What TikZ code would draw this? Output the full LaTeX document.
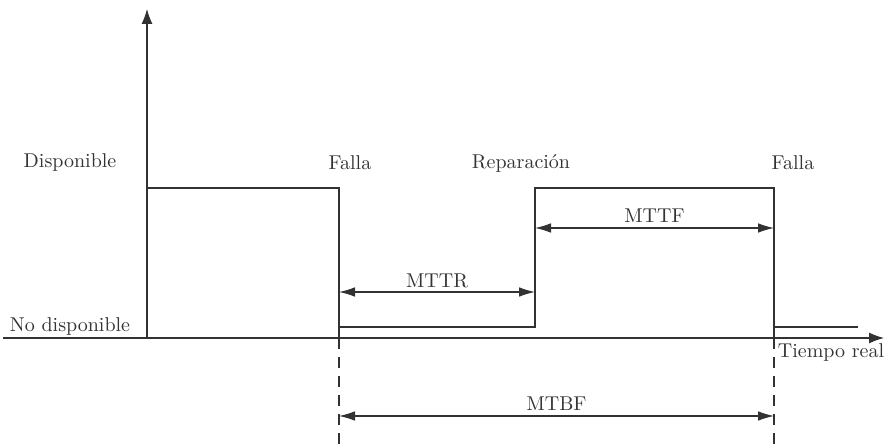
\documentclass[tikz,border=0pt]{standalone}
\usepackage{tikz}
\usetikzlibrary{arrows.meta}
\definecolor{lineGrey}{RGB}{50, 50, 50}

\begin{document}
\begin{tikzpicture} [
        x=0.5pt, y=-0.5pt,
        signal/.style={draw=lineGrey, line width=0.55pt},
        axis/.style={draw=lineGrey, line width=0.55pt, -{Latex[length=7.5pt, width=5.5pt]}},
        span/.style={draw=lineGrey, line width=0.55pt, {Latex[length=8pt, width=4.8pt]}-{Latex[length=8pt, width=4.8pt]}},
        guide/.style={draw=lineGrey, line width=0.55pt, dash pattern=on 5.5pt off 4pt},
        lbl/.style={inner sep=0pt, text=black!80}
    ]
        \useasboundingbox (0,0) rectangle (884,448);

        % axes
        \coordinate (o) at (147,338);
        \coordinate (xstart) at (3,338);
        \coordinate (xend) at (884,338);
        \coordinate (ytop) at (147,9);
        \draw[axis] (xstart) -- (xend);
        \draw[axis] (o) -- (ytop);

        % failure / repair instants
        \coordinate (f1) at (339,338);
        \coordinate (r1) at (535,338);
        \coordinate (f2) at (774,338);
        \coordinate (tend) at (858,338);

        % signal
        \draw[signal] (o|-0,188) -- (f1|-0,188) -- (f1)
            (f1|-0,327) -- (r1|-0,327) -- (r1|-0,188) -- (f2|-0,188) -- (f2)
            (f2|-0,327) -- (tend|-0,327);

        % guides
        \foreach \t in {f1, f2} {
            \coordinate (\t low) at (\t|-0,448);
            \draw[guide] (\t) -- (\t low);
        }

        % intervals
        \draw[span] (f1|-0,292) -- (r1|-0,292) node[midway, above=2pt, lbl] (mttr) {MTTR};
        \draw[span] (r1|-0,228) -- (f2|-0,228) node[midway, above=2.5pt, lbl] (mttf) {MTTF};
        \draw[span] (f1|-0,416) -- (f2|-0,416) node[midway, above=2.5pt, lbl] (mtbf) {MTBF};

        % labels
        \node[lbl] (avail) at (70,163) {Disponible};
        \node[lbl] (unavail) at (70,327) {No disponible};
        \node[lbl] (fail1) at (350,163) {Falla};
        \node[lbl] (repair) at (521,163) {Reparación};
        \node[lbl] (fail2) at (793,163) {Falla};
        \node[lbl] (time) at (831,353) {Tiempo real};
    \end{tikzpicture}
\end{document}
